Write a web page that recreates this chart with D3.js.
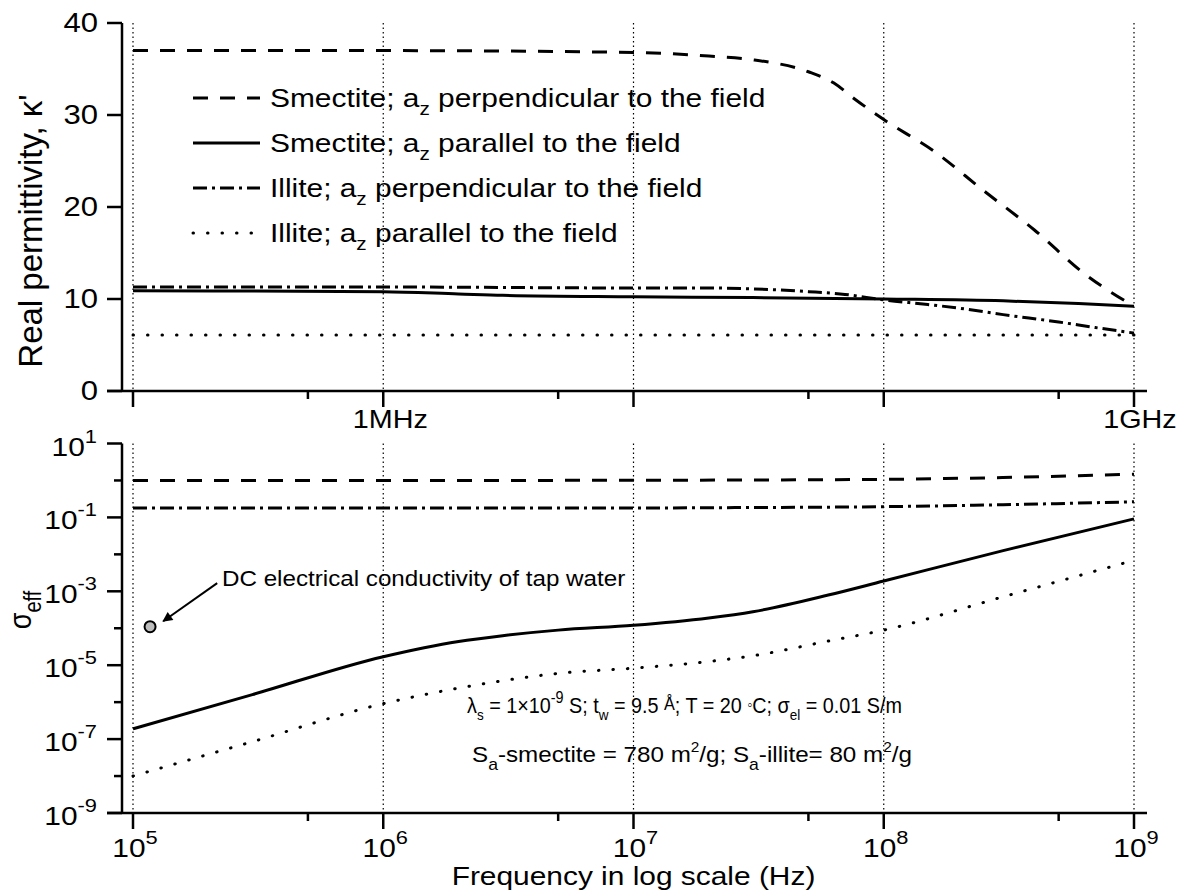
<!DOCTYPE html>
<html>
<head>
<meta charset="utf-8">
<script src="https://cdn.jsdelivr.net/npm/d3@7"></script>
<style>
  body { margin: 0; background: #fff; }
  text { font-family: Arial, "Liberation Sans", sans-serif; fill: #000; }
</style>
</head>
<body>
<svg id="chart"></svg>
<script>
// ---- data ----
// top panel: real permittivity
const freqSmPerpK = [1e5, 1e6, 1e7, 2e7, 3e7, 5e7, 6.3e7, 7.6e7, 1e8, 1.6e8, 2.5e8, 4e8, 6.3e8, 1e9];
const kSmPerp     = [37, 37, 36.8, 36.4, 36.0, 34.7, 33.5, 31.8, 29.5, 26.0, 21.8, 17.5, 12.8, 9.2];
const freqSmParK  = [1e5, 1e6, 2e6, 3e6, 1e7, 3e7, 1e8, 3e8, 6e8, 1e9];
const kSmPar      = [10.9, 10.8, 10.55, 10.4, 10.25, 10.15, 10.0, 9.8, 9.5, 9.2];
const freqIlPerpK = [1e5, 1e6, 1e7, 2e7, 3e7, 5e7, 7e7, 1e8, 1.5e8, 2e8, 3e8, 5e8, 7e8, 1e9];
const kIlPerp     = [11.3, 11.3, 11.2, 11.2, 11.1, 10.8, 10.5, 9.9, 9.4, 9.0, 8.3, 7.5, 6.9, 6.3];
const freqIlParK  = [1e5, 1e7, 1e8, 1e9];
const kIlPar      = [6.1, 6.1, 6.1, 6.1];

// bottom panel: effective conductivity (S/m)
const freqSigA   = [1e5, 1e6, 1e7, 3e7, 1e8, 3e8, 1e9];
const sSmPerp    = [1.0, 1.0, 1.01, 1.03, 1.07, 1.2, 1.48];
const sIlPerp    = [0.18, 0.18, 0.18, 0.185, 0.195, 0.22, 0.265];
const freqSigB   = [1e5, 3e5, 1e6, 2e6, 3e6, 5e6, 1e7, 2e7, 3e7, 6e7, 1e8, 3e8, 1e9];
const sSmPar     = [1.9e-7, 1.6e-6, 1.7e-5, 4.4e-5, 6.3e-5, 8.9e-5, 1.2e-4, 1.9e-4, 2.8e-4, 7.9e-4, 1.9e-3, 1.26e-2, 9.1e-2];
const sIlPar     = [1e-8, 8.5e-8, 9.1e-7, 2.4e-6, 3.8e-6, 6.0e-6, 8.3e-6, 1.26e-5, 1.8e-5, 4.5e-5, 8.9e-5, 7.1e-4, 6.9e-3];

// tap water point + arrow (Hz, S/m)
const tapWater = [1.17e5, 1.1e-4];
const arrowFrom = [2.17e5, 1.66e-3];
const arrowTo = [1.32e5, 1.55e-4];

// ticks
const decades = [1e5, 1e6, 1e7, 1e8, 1e9];
const minorFreq = [5e5, 5e6, 5e7, 5e8];
const xExp = ['5', '6', '7', '8', '9'];
const kTicks = [0, 10, 20, 30, 40];
const sMajor = [1e1, 1e-1, 1e-3, 1e-5, 1e-7, 1e-9];
const sMajorExp = ['1', '-1', '-3', '-5', '-7', '-9'];
const sMinor = [1e0, 1e-2, 1e-4, 1e-6, 1e-8];

const legendRows = [
  { pre: 'Smectite; a', post: ' perpendicular to the field', dash: '15,12' },
  { pre: 'Smectite; a', post: ' parallel to the field', dash: null },
  { pre: ' Illite; a', post: ' perpendicular to the field', dash: '14,5,3,5' },
  { pre: ' Illite; a', post: ' parallel to the field', dash: '3,12' }
];

// ---- layout ----
const W = 1185, H = 895;
const SX = 1.15; // glyphs in the picture are a bit wide
const LW = 3;

const svg = d3.select('#chart').attr('width', W).attr('height', H);

const x = d3.scaleLog().domain([1e5, 1e9]).range([133, 1134]);
const yTop = d3.scaleLinear().domain([0, 40]).range([391, 23]);
const yBot = d3.scaleLog().domain([1e-9, 1e1]).range([813, 443.5]);

const axisLeftX = 122, axisStart = 107, axisEnd = 1147;

const txt = (g, px, py, size, anchor, sx) => g.append('text')
  .attr('transform', `translate(${px},${py}) scale(${sx || SX},1)`)
  .attr('font-size', size)
  .attr('text-anchor', anchor || 'start');

const dashOf = (d) => (d === '3,12' ? '0.5,14' : d);
const capOf = (d) => (d === '3,12' ? 'round' : 'butt');

// gridlines
const gGrid = svg.append('g').attr('class', 'grid');
[[yTop(40), yTop(0)], [yBot(1e1), yBot(1e-9)]].forEach(([y1, y2]) => {
  decades.forEach((d) => {
    gGrid.append('line')
      .attr('x1', x(d)).attr('x2', x(d))
      .attr('y1', y1).attr('y2', y2)
      .attr('stroke', '#000').attr('stroke-width', 1.2)
      .attr('stroke-dasharray', '1.5,3');
  });
});

// curves
const gC = svg.append('g').attr('class', 'curves');
const addCurve = (fs, vs, yScale, dash) => {
  const line = d3.line().x((d) => x(d[0])).y((d) => yScale(d[1])).curve(d3.curveMonotoneX);
  gC.append('path')
    .attr('d', line(fs.map((f, i) => [f, vs[i]])))
    .attr('fill', 'none')
    .attr('stroke', '#000')
    .attr('stroke-width', LW)
    .attr('stroke-linecap', capOf(dash))
    .attr('stroke-dasharray', dashOf(dash));
};
addCurve(freqSmPerpK, kSmPerp, yTop, '15,12');
addCurve(freqSmParK, kSmPar, yTop, null);
addCurve(freqIlPerpK, kIlPerp, yTop, '14,5,3,5');
addCurve(freqIlParK, kIlPar, yTop, '3,12');
addCurve(freqSigA, sSmPerp, yBot, '15,12');
addCurve(freqSigB, sSmPar, yBot, null);
addCurve(freqSigA, sIlPerp, yBot, '14,5,3,5');
addCurve(freqSigB, sIlPar, yBot, '3,12');

// axes
const gA = svg.append('g').attr('class', 'axes').attr('stroke', '#000').attr('stroke-width', 2.5);
// top panel
gA.append('line').attr('x1', axisLeftX).attr('x2', axisLeftX).attr('y1', yTop(40)).attr('y2', yTop(0));
gA.append('line').attr('x1', axisStart).attr('x2', axisEnd).attr('y1', yTop(0)).attr('y2', yTop(0));
kTicks.forEach((k) => {
  gA.append('line').attr('x1', axisStart).attr('x2', axisLeftX).attr('y1', yTop(k)).attr('y2', yTop(k));
});
// bottom panel
gA.append('line').attr('x1', axisLeftX).attr('x2', axisLeftX).attr('y1', yBot(1e1)).attr('y2', yBot(1e-9));
gA.append('line').attr('x1', axisStart).attr('x2', axisEnd).attr('y1', yBot(1e-9)).attr('y2', yBot(1e-9));
sMajor.forEach((s) => {
  gA.append('line').attr('x1', axisStart).attr('x2', axisLeftX).attr('y1', yBot(s)).attr('y2', yBot(s));
});
sMinor.forEach((s) => {
  gA.append('line').attr('x1', axisLeftX - 8).attr('x2', axisLeftX).attr('y1', yBot(s)).attr('y2', yBot(s));
});
// frequency ticks on both panels
[yTop(0), yBot(1e-9)].forEach((yb) => {
  decades.forEach((d) => {
    gA.append('line').attr('x1', x(d)).attr('x2', x(d)).attr('y1', yb).attr('y2', yb + 16);
  });
  minorFreq.forEach((d) => {
    gA.append('line').attr('x1', x(d)).attr('x2', x(d)).attr('y1', yb).attr('y2', yb + 8);
  });
});

// tick labels
const gT = svg.append('g').attr('class', 'tick-labels');
kTicks.forEach((k) => {
  txt(gT, 98, yTop(k) + 9, 27, 'end').text(k);
});
sMajor.forEach((s, i) => {
  const t = txt(gT, 97, yBot(s) + 12, 26, 'end');
  t.append('tspan').text('10');
  t.append('tspan').attr('dy', -13).attr('font-size', 19).text(sMajorExp[i]);
});
decades.forEach((d, i) => {
  const t = txt(gT, x(d) + 2, 857, 26, 'middle');
  t.append('tspan').text('10');
  t.append('tspan').attr('dy', -13).attr('font-size', 19).text(xExp[i]);
});
txt(gT, x(1e6) + 7, 428, 25, 'middle').text('1MHz');
txt(gT, x(1e9) + 6, 428, 25, 'middle').text('1GHz');

// axis titles
svg.append('text')
  .attr('transform', `translate(42,231) rotate(-90) scale(1,${SX * 0.88})`)
  .attr('font-size', 33)
  .attr('text-anchor', 'middle')
  .text("Real permittivity, \u03BA'");
const sig = svg.append('text')
  .attr('transform', `translate(31,610) rotate(-90) scale(1,${SX})`)
  .attr('font-size', 27)
  .attr('text-anchor', 'middle');
sig.append('tspan').text('\u03C3');
sig.append('tspan').attr('dy', 9).attr('font-size', 20).text('eff');
txt(svg, x(1e7), 885, 26, 'middle').text('Frequency in log scale (Hz)');

// legend
const gL = svg.append('g').attr('class', 'legend');
legendRows.forEach((r, i) => {
  const ly = 98 + i * 45;
  gL.append('line')
    .attr('x1', 193).attr('x2', 260).attr('y1', ly).attr('y2', ly)
    .attr('stroke', '#000').attr('stroke-width', LW)
    .attr('stroke-linecap', capOf(r.dash))
    .attr('stroke-dasharray', dashOf(r.dash));
  const t = txt(gL, 270, ly + 9, 26);
  t.append('tspan').text(r.pre);
  t.append('tspan').attr('dy', 8).attr('font-size', 18).text('z');
  t.append('tspan').attr('dy', -8).text(r.post);
});

// tap water annotation
svg.append('defs').append('marker')
  .attr('id', 'arrow').attr('viewBox', '0 0 10 10')
  .attr('refX', 9).attr('refY', 5)
  .attr('markerWidth', 6).attr('markerHeight', 5)
  .attr('markerUnits', 'strokeWidth')
  .attr('orient', 'auto')
  .append('path').attr('d', 'M0,0 L10,5 L0,10 z').attr('fill', '#000');
svg.append('line')
  .attr('x1', x(arrowFrom[0])).attr('y1', yBot(arrowFrom[1]))
  .attr('x2', x(arrowTo[0])).attr('y2', yBot(arrowTo[1]))
  .attr('stroke', '#000').attr('stroke-width', 2)
  .attr('marker-end', 'url(#arrow)');
svg.append('circle')
  .attr('cx', x(tapWater[0])).attr('cy', yBot(tapWater[1]))
  .attr('r', 5.5)
  .attr('fill', '#bdbdbd').attr('stroke', '#000').attr('stroke-width', 2);
txt(svg, 222, 586, 22, 'start', 1.1).text('DC electrical conductivity of tap water');

// parameter notes
const n1 = txt(svg, 467, 713, 22, 'start', 0.9);
n1.append('tspan').text('\u03BB');
n1.append('tspan').attr('dy', 7).attr('font-size', 15).text('s');
n1.append('tspan').attr('dy', -7).text(' = 1\u00D710');
n1.append('tspan').attr('dy', -10).attr('font-size', 16).text('-9');
n1.append('tspan').attr('dy', 10).text(' S; t');
n1.append('tspan').attr('dy', 7).attr('font-size', 15).text('w');
n1.append('tspan').attr('dy', -7).text(' = 9.5 ');
n1.append('tspan').attr('dy', -3).attr('font-size', 18).text('\u00C5');
n1.append('tspan').attr('dy', 3).text('; T = 20 ');
n1.append('tspan').attr('dy', -3).attr('font-size', 16).text('\u25E6');
n1.append('tspan').attr('dy', 3).text('C; \u03C3');
n1.append('tspan').attr('dy', 7).attr('font-size', 15).text('el');
n1.append('tspan').attr('dy', -7).text(' = 0.01 S/m');

const n2 = txt(svg, 472, 762, 22, 'start', 1.1);
n2.append('tspan').text('S');
n2.append('tspan').attr('dy', 8).attr('font-size', 16).text('a');
n2.append('tspan').attr('dy', -8).text('-smectite = 780 m');
n2.append('tspan').attr('dy', -10).attr('font-size', 14).text('2');
n2.append('tspan').attr('dy', 10).text('/g; S');
n2.append('tspan').attr('dy', 8).attr('font-size', 16).text('a');
n2.append('tspan').attr('dy', -8).text('-illite= 80 m');
n2.append('tspan').attr('dy', -10).attr('font-size', 14).text('2');
n2.append('tspan').attr('dy', 10).text('/g');
</script>
</body>
</html>
